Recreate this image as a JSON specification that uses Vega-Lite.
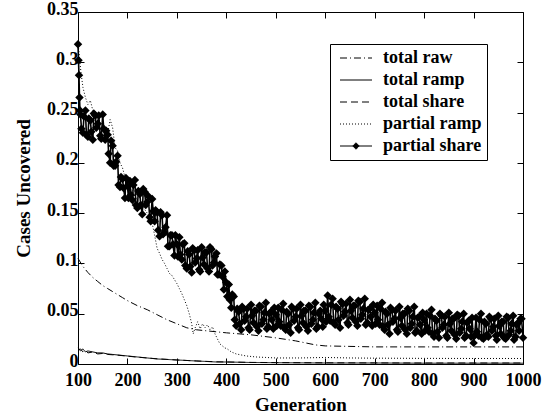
{
  "$schema": "https://vega.github.io/schema/vega-lite/v6.json",
  "width": 445,
  "height": 352,
  "autosize": "none",
  "padding": {"left": 78, "top": 12, "right": 21, "bottom": 55},
  "background": "white",
  "config": {
    "view": {"stroke": "black", "strokeWidth": 1},
    "axis": {
      "domain": false,
      "grid": false,
      "ticks": true,
      "labelFont": "Liberation Serif",
      "labelFontWeight": "bold",
      "labelFontSize": 18,
      "labelColor": "black",
      "tickColor": "black",
      "tickWidth": 1,
      "tickSize": -6,
      "titleFont": "Liberation Serif",
      "titleFontWeight": "bold",
      "titleFontSize": 19,
      "titleColor": "black"
    }
  },
  "datasets": {
    "curves": [
      {"g":100,"v":0.105,"s":"total raw"},{"g":110,"v":0.097,"s":"total raw"},{"g":120,"v":0.091,"s":"total raw"},{"g":130,"v":0.086,"s":"total raw"},{"g":140,"v":0.082,"s":"total raw"},{"g":150,"v":0.078,"s":"total raw"},{"g":160,"v":0.075,"s":"total raw"},{"g":170,"v":0.072,"s":"total raw"},{"g":180,"v":0.069,"s":"total raw"},{"g":190,"v":0.066,"s":"total raw"},{"g":200,"v":0.063,"s":"total raw"},{"g":220,"v":0.058,"s":"total raw"},{"g":240,"v":0.054,"s":"total raw"},{"g":260,"v":0.049,"s":"total raw"},{"g":280,"v":0.044,"s":"total raw"},{"g":300,"v":0.040,"s":"total raw"},{"g":320,"v":0.036,"s":"total raw"},{"g":340,"v":0.034,"s":"total raw"},{"g":360,"v":0.033,"s":"total raw"},{"g":380,"v":0.032,"s":"total raw"},{"g":400,"v":0.031,"s":"total raw"},{"g":450,"v":0.029,"s":"total raw"},{"g":500,"v":0.026,"s":"total raw"},{"g":540,"v":0.023,"s":"total raw"},{"g":560,"v":0.021,"s":"total raw"},{"g":580,"v":0.019,"s":"total raw"},{"g":600,"v":0.018,"s":"total raw"},{"g":650,"v":0.0175,"s":"total raw"},{"g":700,"v":0.017,"s":"total raw"},{"g":800,"v":0.017,"s":"total raw"},{"g":900,"v":0.017,"s":"total raw"},{"g":1000,"v":0.017,"s":"total raw"},

      {"g":100,"v":0.016,"s":"total ramp"},{"g":105,"v":0.013,"s":"total ramp"},{"g":110,"v":0.015,"s":"total ramp"},{"g":115,"v":0.012,"s":"total ramp"},{"g":120,"v":0.013,"s":"total ramp"},{"g":130,"v":0.012,"s":"total ramp"},{"g":140,"v":0.011,"s":"total ramp"},{"g":150,"v":0.011,"s":"total ramp"},{"g":160,"v":0.010,"s":"total ramp"},{"g":170,"v":0.0095,"s":"total ramp"},{"g":180,"v":0.009,"s":"total ramp"},{"g":200,"v":0.008,"s":"total ramp"},{"g":220,"v":0.007,"s":"total ramp"},{"g":240,"v":0.006,"s":"total ramp"},{"g":260,"v":0.005,"s":"total ramp"},{"g":280,"v":0.0045,"s":"total ramp"},{"g":300,"v":0.004,"s":"total ramp"},{"g":320,"v":0.0035,"s":"total ramp"},{"g":340,"v":0.003,"s":"total ramp"},{"g":360,"v":0.0025,"s":"total ramp"},{"g":380,"v":0.002,"s":"total ramp"},{"g":400,"v":0.002,"s":"total ramp"},{"g":450,"v":0.0015,"s":"total ramp"},{"g":500,"v":0.0013,"s":"total ramp"},{"g":600,"v":0.001,"s":"total ramp"},{"g":700,"v":0.001,"s":"total ramp"},{"g":800,"v":0.0008,"s":"total ramp"},{"g":900,"v":0.0008,"s":"total ramp"},{"g":1000,"v":0.0008,"s":"total ramp"},

      {"g":100,"v":0.014,"s":"total share"},{"g":105,"v":0.015,"s":"total share"},{"g":110,"v":0.012,"s":"total share"},{"g":115,"v":0.014,"s":"total share"},{"g":120,"v":0.011,"s":"total share"},{"g":130,"v":0.012,"s":"total share"},{"g":140,"v":0.010,"s":"total share"},{"g":150,"v":0.0105,"s":"total share"},{"g":160,"v":0.0095,"s":"total share"},{"g":180,"v":0.0088,"s":"total share"},{"g":200,"v":0.0078,"s":"total share"},{"g":220,"v":0.0068,"s":"total share"},{"g":240,"v":0.006,"s":"total share"},{"g":260,"v":0.0052,"s":"total share"},{"g":280,"v":0.0046,"s":"total share"},{"g":300,"v":0.004,"s":"total share"},{"g":340,"v":0.003,"s":"total share"},{"g":380,"v":0.0022,"s":"total share"},{"g":400,"v":0.002,"s":"total share"},{"g":450,"v":0.0016,"s":"total share"},{"g":500,"v":0.0014,"s":"total share"},{"g":600,"v":0.0012,"s":"total share"},{"g":700,"v":0.0011,"s":"total share"},{"g":800,"v":0.001,"s":"total share"},{"g":900,"v":0.001,"s":"total share"},{"g":1000,"v":0.001,"s":"total share"},

      {"g":100,"v":0.320,"s":"partial ramp"},{"g":103,"v":0.305,"s":"partial ramp"},{"g":106,"v":0.290,"s":"partial ramp"},{"g":110,"v":0.275,"s":"partial ramp"},{"g":115,"v":0.265,"s":"partial ramp"},{"g":120,"v":0.258,"s":"partial ramp"},{"g":125,"v":0.262,"s":"partial ramp"},{"g":130,"v":0.252,"s":"partial ramp"},{"g":135,"v":0.250,"s":"partial ramp"},{"g":140,"v":0.246,"s":"partial ramp"},{"g":145,"v":0.240,"s":"partial ramp"},{"g":150,"v":0.237,"s":"partial ramp"},{"g":155,"v":0.232,"s":"partial ramp"},{"g":160,"v":0.229,"s":"partial ramp"},{"g":165,"v":0.243,"s":"partial ramp"},{"g":170,"v":0.235,"s":"partial ramp"},{"g":175,"v":0.215,"s":"partial ramp"},{"g":180,"v":0.212,"s":"partial ramp"},{"g":185,"v":0.200,"s":"partial ramp"},{"g":190,"v":0.195,"s":"partial ramp"},{"g":195,"v":0.186,"s":"partial ramp"},{"g":200,"v":0.180,"s":"partial ramp"},{"g":210,"v":0.172,"s":"partial ramp"},{"g":220,"v":0.163,"s":"partial ramp"},{"g":230,"v":0.157,"s":"partial ramp"},{"g":240,"v":0.150,"s":"partial ramp"},{"g":250,"v":0.140,"s":"partial ramp"},{"g":255,"v":0.128,"s":"partial ramp"},{"g":260,"v":0.115,"s":"partial ramp"},{"g":265,"v":0.110,"s":"partial ramp"},{"g":270,"v":0.104,"s":"partial ramp"},{"g":275,"v":0.100,"s":"partial ramp"},{"g":280,"v":0.095,"s":"partial ramp"},{"g":285,"v":0.090,"s":"partial ramp"},{"g":290,"v":0.088,"s":"partial ramp"},{"g":295,"v":0.084,"s":"partial ramp"},{"g":300,"v":0.080,"s":"partial ramp"},{"g":305,"v":0.075,"s":"partial ramp"},{"g":310,"v":0.070,"s":"partial ramp"},{"g":315,"v":0.064,"s":"partial ramp"},{"g":320,"v":0.058,"s":"partial ramp"},{"g":325,"v":0.050,"s":"partial ramp"},{"g":330,"v":0.040,"s":"partial ramp"},{"g":333,"v":0.030,"s":"partial ramp"},{"g":337,"v":0.036,"s":"partial ramp"},{"g":342,"v":0.042,"s":"partial ramp"},{"g":347,"v":0.035,"s":"partial ramp"},{"g":352,"v":0.040,"s":"partial ramp"},{"g":357,"v":0.036,"s":"partial ramp"},{"g":362,"v":0.039,"s":"partial ramp"},{"g":367,"v":0.034,"s":"partial ramp"},{"g":372,"v":0.037,"s":"partial ramp"},{"g":377,"v":0.030,"s":"partial ramp"},{"g":382,"v":0.025,"s":"partial ramp"},{"g":387,"v":0.020,"s":"partial ramp"},{"g":392,"v":0.018,"s":"partial ramp"},{"g":397,"v":0.016,"s":"partial ramp"},{"g":402,"v":0.015,"s":"partial ramp"},{"g":410,"v":0.012,"s":"partial ramp"},{"g":420,"v":0.010,"s":"partial ramp"},{"g":430,"v":0.009,"s":"partial ramp"},{"g":440,"v":0.008,"s":"partial ramp"},{"g":460,"v":0.007,"s":"partial ramp"},{"g":480,"v":0.0065,"s":"partial ramp"},{"g":500,"v":0.006,"s":"partial ramp"},{"g":550,"v":0.006,"s":"partial ramp"},{"g":600,"v":0.0065,"s":"partial ramp"},{"g":650,"v":0.006,"s":"partial ramp"},{"g":700,"v":0.0058,"s":"partial ramp"},{"g":800,"v":0.0056,"s":"partial ramp"},{"g":900,"v":0.0055,"s":"partial ramp"},{"g":1000,"v":0.0055,"s":"partial ramp"}
    ],
    "share": [
      {"g":100,"v":0.318},{"g":101,"v":0.302},{"g":102,"v":0.287},{"g":103,"v":0.265},{"g":104,"v":0.252},
      {"g":105,"v":0.248},{"g":110,"v":0.230},{"g":115,"v":0.252},{"g":120,"v":0.226},{"g":125,"v":0.242},{"g":130,"v":0.223},{"g":135,"v":0.247},{"g":140,"v":0.239},{"g":145,"v":0.227},{"g":150,"v":0.248},
      {"g":155,"v":0.223},{"g":160,"v":0.228},{"g":165,"v":0.200},{"g":170,"v":0.217},{"g":175,"v":0.197},{"g":180,"v":0.207},{"g":185,"v":0.176},{"g":190,"v":0.184},{"g":195,"v":0.165},{"g":200,"v":0.177},
      {"g":205,"v":0.182},{"g":210,"v":0.163},{"g":215,"v":0.183},{"g":220,"v":0.155},{"g":225,"v":0.169},{"g":230,"v":0.149},{"g":235,"v":0.171},{"g":240,"v":0.161},{"g":245,"v":0.146},{"g":250,"v":0.164},
      {"g":255,"v":0.142},{"g":260,"v":0.151},{"g":265,"v":0.127},{"g":270,"v":0.148},{"g":275,"v":0.131},{"g":280,"v":0.148},{"g":285,"v":0.117},{"g":290,"v":0.128},{"g":295,"v":0.108},{"g":300,"v":0.119},
      {"g":305,"v":0.126},{"g":310,"v":0.104},{"g":315,"v":0.120},{"g":320,"v":0.095},{"g":325,"v":0.109},{"g":330,"v":0.091},{"g":335,"v":0.113},{"g":340,"v":0.105},{"g":345,"v":0.094},{"g":350,"v":0.116},
      {"g":355,"v":0.099},{"g":360,"v":0.111},{"g":365,"v":0.092},{"g":370,"v":0.114},{"g":375,"v":0.101},{"g":380,"v":0.110},{"g":385,"v":0.089},{"g":390,"v":0.098},{"g":395,"v":0.074},{"g":400,"v":0.081},
      {"g":405,"v":0.079},{"g":410,"v":0.056},{"g":415,"v":0.067},{"g":420,"v":0.038},{"g":425,"v":0.052},{"g":430,"v":0.034},{"g":435,"v":0.055},{"g":440,"v":0.047},{"g":445,"v":0.036},{"g":450,"v":0.059},
      {"g":455,"v":0.041},{"g":460,"v":0.053},{"g":465,"v":0.033},{"g":470,"v":0.057},{"g":475,"v":0.044},{"g":480,"v":0.061},{"g":485,"v":0.037},{"g":490,"v":0.052},{"g":495,"v":0.035},{"g":500,"v":0.049},
      {"g":505,"v":0.056},{"g":510,"v":0.038},{"g":515,"v":0.060},{"g":520,"v":0.034},{"g":525,"v":0.050},{"g":530,"v":0.031},{"g":535,"v":0.055},{"g":540,"v":0.047},{"g":545,"v":0.036},{"g":550,"v":0.059},
      {"g":555,"v":0.041},{"g":560,"v":0.053},{"g":565,"v":0.033},{"g":570,"v":0.057},{"g":575,"v":0.044},{"g":580,"v":0.061},{"g":585,"v":0.037},{"g":590,"v":0.053},{"g":595,"v":0.037},{"g":600,"v":0.053},
      {"g":605,"v":0.068},{"g":610,"v":0.043},{"g":615,"v":0.065},{"g":620,"v":0.039},{"g":625,"v":0.055},{"g":630,"v":0.036},{"g":635,"v":0.060},{"g":640,"v":0.052},{"g":645,"v":0.041},{"g":650,"v":0.064},
      {"g":655,"v":0.046},{"g":660,"v":0.058},{"g":665,"v":0.038},{"g":670,"v":0.062},{"g":675,"v":0.049},{"g":680,"v":0.065},{"g":685,"v":0.041},{"g":690,"v":0.055},{"g":695,"v":0.038},{"g":700,"v":0.051},
      {"g":705,"v":0.058},{"g":710,"v":0.039},{"g":715,"v":0.061},{"g":720,"v":0.034},{"g":725,"v":0.050},{"g":730,"v":0.030},{"g":735,"v":0.054},{"g":740,"v":0.045},{"g":745,"v":0.034},{"g":750,"v":0.057},
      {"g":755,"v":0.038},{"g":760,"v":0.050},{"g":765,"v":0.030},{"g":770,"v":0.053},{"g":775,"v":0.040},{"g":780,"v":0.057},{"g":785,"v":0.033},{"g":790,"v":0.047},{"g":795,"v":0.030},{"g":800,"v":0.044},
      {"g":805,"v":0.050},{"g":810,"v":0.032},{"g":815,"v":0.054},{"g":820,"v":0.027},{"g":825,"v":0.043},{"g":830,"v":0.026},{"g":835,"v":0.048},{"g":840,"v":0.039},{"g":845,"v":0.028},{"g":850,"v":0.051},
      {"g":855,"v":0.033},{"g":860,"v":0.045},{"g":865,"v":0.025},{"g":870,"v":0.048},{"g":875,"v":0.035},{"g":880,"v":0.050},{"g":885,"v":0.028},{"g":890,"v":0.043},{"g":895,"v":0.027},{"g":900,"v":0.021},
      {"g":905,"v":0.046},{"g":910,"v":0.028},{"g":915,"v":0.050},{"g":920,"v":0.025},{"g":925,"v":0.040},{"g":930,"v":0.027},{"g":935,"v":0.045},{"g":940,"v":0.037},{"g":945,"v":0.028},{"g":950,"v":0.048},
      {"g":955,"v":0.030},{"g":960,"v":0.042},{"g":965,"v":0.025},{"g":970,"v":0.046},{"g":975,"v":0.033},{"g":980,"v":0.048},{"g":985,"v":0.027},{"g":990,"v":0.041},{"g":995,"v":0.045},{"g":1000,"v":0.026},
      {"g":107,"v":0.234},{"g":112,"v":0.246},{"g":117,"v":0.228},{"g":122,"v":0.244},{"g":127,"v":0.231},{"g":132,"v":0.249},{"g":137,"v":0.235},{"g":142,"v":0.247},{"g":147,"v":0.224},{"g":152,"v":0.234},
      {"g":157,"v":0.232},{"g":162,"v":0.209},{"g":167,"v":0.222},{"g":172,"v":0.197},{"g":177,"v":0.201},{"g":182,"v":0.178},{"g":187,"v":0.186},{"g":192,"v":0.175},{"g":197,"v":0.185},{"g":202,"v":0.165},
      {"g":207,"v":0.168},{"g":212,"v":0.178},{"g":217,"v":0.158},{"g":222,"v":0.172},{"g":227,"v":0.158},{"g":232,"v":0.174},{"g":237,"v":0.158},{"g":242,"v":0.167},{"g":247,"v":0.142},{"g":252,"v":0.152},
      {"g":257,"v":0.153},{"g":262,"v":0.133},{"g":267,"v":0.151},{"g":272,"v":0.129},{"g":277,"v":0.136},{"g":282,"v":0.117},{"g":287,"v":0.128},{"g":292,"v":0.119},{"g":297,"v":0.128},{"g":302,"v":0.107},
      {"g":307,"v":0.109},{"g":312,"v":0.119},{"g":317,"v":0.098},{"g":322,"v":0.112},{"g":327,"v":0.097},{"g":332,"v":0.115},{"g":337,"v":0.101},{"g":342,"v":0.113},{"g":347,"v":0.092},{"g":352,"v":0.106},
      {"g":357,"v":0.111},{"g":362,"v":0.095},{"g":367,"v":0.116},{"g":372,"v":0.098},{"g":377,"v":0.107},{"g":382,"v":0.089},{"g":387,"v":0.099},{"g":392,"v":0.087},{"g":397,"v":0.092},{"g":402,"v":0.067},
      {"g":407,"v":0.064},{"g":412,"v":0.069},{"g":417,"v":0.044},{"g":422,"v":0.055},{"g":427,"v":0.040},{"g":432,"v":0.057},{"g":437,"v":0.043},{"g":442,"v":0.055},{"g":447,"v":0.034},{"g":452,"v":0.048},
      {"g":457,"v":0.053},{"g":462,"v":0.037},{"g":467,"v":0.058},{"g":472,"v":0.040},{"g":477,"v":0.051},{"g":482,"v":0.035},{"g":487,"v":0.050},{"g":492,"v":0.044},{"g":497,"v":0.056},{"g":502,"v":0.038},
      {"g":507,"v":0.042},{"g":512,"v":0.054},{"g":517,"v":0.036},{"g":522,"v":0.052},{"g":527,"v":0.039},{"g":532,"v":0.057},{"g":537,"v":0.043},{"g":542,"v":0.055},{"g":547,"v":0.034},{"g":552,"v":0.048},
      {"g":557,"v":0.053},{"g":562,"v":0.037},{"g":567,"v":0.058},{"g":572,"v":0.040},{"g":577,"v":0.051},{"g":582,"v":0.035},{"g":587,"v":0.050},{"g":592,"v":0.045},{"g":597,"v":0.059},{"g":602,"v":0.042},
      {"g":607,"v":0.047},{"g":612,"v":0.059},{"g":617,"v":0.041},{"g":622,"v":0.057},{"g":627,"v":0.044},{"g":632,"v":0.062},{"g":637,"v":0.048},{"g":642,"v":0.060},{"g":647,"v":0.039},{"g":652,"v":0.053},
      {"g":657,"v":0.058},{"g":662,"v":0.042},{"g":667,"v":0.063},{"g":672,"v":0.045},{"g":677,"v":0.055},{"g":682,"v":0.039},{"g":687,"v":0.054},{"g":692,"v":0.047},{"g":697,"v":0.059},{"g":702,"v":0.040},
      {"g":707,"v":0.044},{"g":712,"v":0.055},{"g":717,"v":0.037},{"g":722,"v":0.052},{"g":727,"v":0.039},{"g":732,"v":0.056},{"g":737,"v":0.042},{"g":742,"v":0.053},{"g":747,"v":0.032},{"g":752,"v":0.046},
      {"g":757,"v":0.050},{"g":762,"v":0.034},{"g":767,"v":0.055},{"g":772,"v":0.036},{"g":777,"v":0.047},{"g":782,"v":0.031},{"g":787,"v":0.046},{"g":792,"v":0.039},{"g":797,"v":0.051},{"g":802,"v":0.033},
      {"g":807,"v":0.036},{"g":812,"v":0.048},{"g":817,"v":0.030},{"g":822,"v":0.045},{"g":827,"v":0.032},{"g":832,"v":0.050},{"g":837,"v":0.036},{"g":842,"v":0.047},{"g":847,"v":0.026},{"g":852,"v":0.040},
      {"g":857,"v":0.045},{"g":862,"v":0.029},{"g":867,"v":0.049},{"g":872,"v":0.031},{"g":877,"v":0.042},{"g":882,"v":0.026},{"g":887,"v":0.041},{"g":892,"v":0.035},{"g":897,"v":0.046},{"g":902,"v":0.028},
      {"g":907,"v":0.032},{"g":912,"v":0.044},{"g":917,"v":0.026},{"g":922,"v":0.042},{"g":927,"v":0.029},{"g":932,"v":0.047},{"g":937,"v":0.033},{"g":942,"v":0.045},{"g":947,"v":0.024},{"g":952,"v":0.038},
      {"g":957,"v":0.042},{"g":962,"v":0.026},{"g":967,"v":0.047},{"g":972,"v":0.029},{"g":977,"v":0.040},{"g":982,"v":0.024},{"g":987,"v":0.039},{"g":992,"v":0.033},{"g":997,"v":0.045}
    ]
  },
  "resolve": {"axis": {"x": "independent", "y": "independent"}},
  "layer": [
    {
      "layer": [
        {
          "data": {"name": "curves"},
          "mark": {"type": "line", "color": "black", "strokeWidth": 1},
          "encoding": {
            "x": {"field": "g", "type": "quantitative", "scale": {"domain": [100, 1000], "nice": false, "zero": false},
                  "axis": {"title": "Generation", "values": [100,200,300,400,500,600,700,800,900,1000], "format": "d", "labelFlush": false, "labelOverlap": false, "labelPadding": 13, "titlePadding": 6, "ticks": true, "tickSize": -6}},
            "y": {"field": "v", "type": "quantitative", "scale": {"domain": [0, 0.35], "nice": false},
                  "axis": {"title": "Cases Uncovered", "values": [0,0.05,0.1,0.15,0.2,0.25,0.3,0.35], "format": ".2~f", "labelFlush": false, "labelOverlap": false, "labelPadding": 6, "labelOffset": -3, "titlePadding": 13, "ticks": true, "tickSize": -6}},
            "strokeDash": {"field": "s", "type": "nominal",
              "scale": {"domain": ["total raw","total ramp","total share","partial ramp","partial share"],
                        "range": [[7,3,1,3],[1,0],[7,4],[1,2],[1,0]]},
              "legend": {"title": null, "orient": "none", "legendX": 252, "legendY": 32,
                         "symbolType": "M-0.5,0L3.5,0", "symbolStrokeColor": "black", "symbolStrokeWidth": 1, "symbolSize": 256,
                         "symbolFillColor": "black",
                         "labelFont": "Liberation Serif", "labelFontWeight": "bold", "labelFontSize": 18, "labelColor": "black",
                         "strokeColor": "black", "fillColor": "white", "padding": 5, "rowPadding": 4, "labelOffset": 30,
                         "encode": {"symbols": {"update": {
                           "shape": {"signal": "datum.value === 'partial share' ? 'M-0.5,0L3.5,0M1.5,-0.4L1.9,0L1.5,0.4L1.1,0Z' : 'M-0.5,0L3.5,0'"},
                           "fill": {"value": "black"},
                           "stroke": {"value": "black"},
                           "strokeWidth": {"value": 1},
                           "opacity": {"value": 1},
                           "strokeDash": {"signal": "datum.value === 'total raw' ? [7,3,1,3] : datum.value === 'total share' ? [7,4] : datum.value === 'partial ramp' ? [1,2] : [1,0]"}
                         }}}}}
          }
        },
        {
          "data": {"name": "share"},
          "transform": [{"calculate": "'partial share'", "as": "s"}],
          "mark": {"type": "line", "color": "black", "strokeWidth": 1.6},
          "encoding": {
            "x": {"field": "g", "type": "quantitative", "scale": {"domain": [100, 1000], "nice": false, "zero": false}},
            "y": {"field": "v", "type": "quantitative", "scale": {"domain": [0, 0.35], "nice": false}},
            "strokeDash": {"field": "s", "type": "nominal"}
          }
        },
        {
          "data": {"name": "share"},
          "mark": {"type": "point", "shape": "diamond", "filled": true, "color": "black", "size": 72, "opacity": 1},
          "encoding": {
            "x": {"field": "g", "type": "quantitative", "scale": {"domain": [100, 1000], "nice": false, "zero": false}},
            "y": {"field": "v", "type": "quantitative", "scale": {"domain": [0, 0.35], "nice": false}}
          }
        }
      ]
    },
    {
      "data": {"name": "share"},
      "mark": {"type": "point", "opacity": 0},
      "encoding": {
        "x": {"field": "g", "type": "quantitative", "scale": {"domain": [100, 1000], "nice": false, "zero": false},
              "axis": {"orient": "top", "labels": false, "title": null, "ticks": true, "tickSize": -6, "values": [100,200,300,400,500,600,700,800,900,1000]}},
        "y": {"field": "v", "type": "quantitative", "scale": {"domain": [0, 0.35], "nice": false},
              "axis": {"orient": "right", "labels": false, "title": null, "ticks": true, "tickSize": -6, "values": [0,0.05,0.1,0.15,0.2,0.25,0.3,0.35]}}
      }
    }
  ]
}
